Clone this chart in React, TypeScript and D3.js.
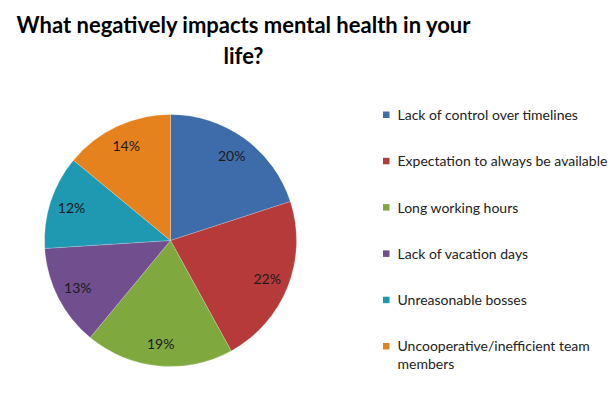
import React from "react";
import * as d3 from "d3";

const categories = [
  "Lack of control over timelines",
  "Expectation to always be available",
  "Long working hours",
  "Lack of vacation days",
  "Unreasonable bosses",
  "Uncooperative/inefficient team members",
];
const values = [20, 22, 19, 13, 12, 14];
const colors = ["#3E6CAA", "#B73A3A", "#7FA93F", "#714F8F", "#1F99B2", "#E5821E"];
const titleLines = ["What negatively impacts mental health in your", "life?"];

export default function App() {
  const W = 614, H = 395;
  const cx = 170.5, cy = 240.5, R = 126;
  const pie = d3.pie<number>().sort(null).value((d) => d);
  const arcs = pie(values);
  const arc = d3.arc<d3.PieArcDatum<number>>().innerRadius(0).outerRadius(R);
  const labelArc = d3.arc<d3.PieArcDatum<number>>().innerRadius(104).outerRadius(104);
  const total = d3.sum(values);
  const legendY = d3.scalePoint<number>().domain(d3.range(categories.length)).range([115, 346.5]);
  const font = "Lato, 'Open Sans', sans-serif";
  return (
    <svg width={W} height={H} style={{ position: "absolute", left: 0, top: 0, background: "#fff" }}>
      <g fontFamily={font} fontWeight="bold" fontSize={22} fill="#000" textAnchor="middle">
        {titleLines.map((t, i) => (
          <text key={i} x={243.5} y={33 + i * 31}>{t}</text>
        ))}
      </g>
      <g transform={`translate(${cx},${cy})`}>
        {arcs.map((a, i) => (
          <path key={i} d={arc(a) || ""} fill={colors[i]} stroke="#fff" strokeWidth={0.5} strokeOpacity={0.4} />
        ))}
        {arcs.map((a, i) => {
          const [x, y] = labelArc.centroid(a);
          return (
            <text key={i} x={x} y={y} dy="0.35em" textAnchor="middle" fontFamily={font} fontSize={14} fill="#1a1a1a">
              {Math.round((values[i] / total) * 100)}%
            </text>
          );
        })}
      </g>
      <g fontFamily={font} fontSize={14} fill="#222">
        {categories.map((c, i) => {
          const y = legendY(i) as number;
          const words = c === "Uncooperative/inefficient team members" ? ["Uncooperative/inefficient team", "members"] : [c];
          return (
            <g key={i}>
              <rect x={383} y={y - 3.5} width={6.5} height={6.5} fill={colors[i]} />
              {words.map((w, j) => (
                <text key={j} x={397.5} y={y + j * 18} dy="0.35em">{w}</text>
              ))}
            </g>
          );
        })}
      </g>
    </svg>
  );
}
